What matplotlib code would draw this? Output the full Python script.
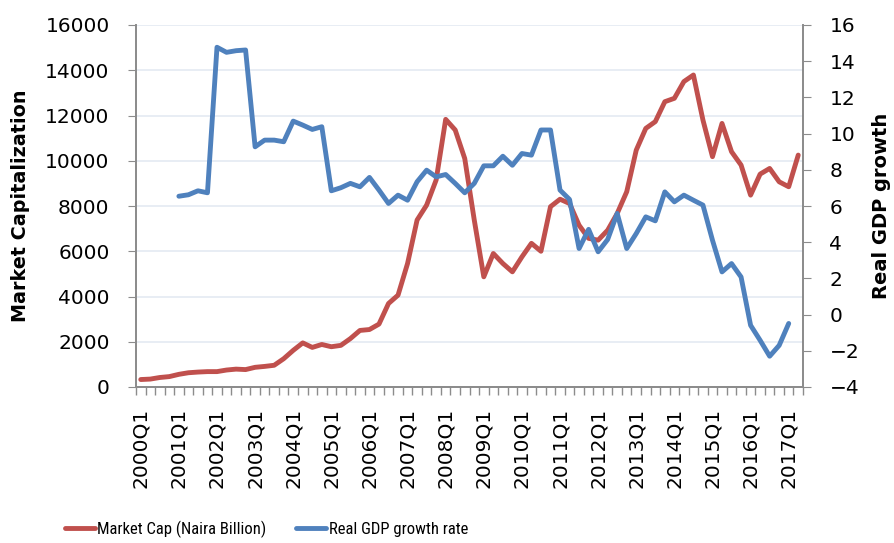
import numpy as np
import matplotlib
matplotlib.use("Agg")
import matplotlib.pyplot as plt
from matplotlib import font_manager
from matplotlib.ticker import FixedLocator

years = list(range(2000, 2018))
quarters = [f"{y}Q{q}" for y in years for q in range(1, 5)][:70]   # 2000Q1 .. 2017Q2

market_cap = [330, 350, 420, 460, 560, 630, 660, 680, 680, 750, 790, 770,
              870, 910, 960, 1250, 1620, 1950, 1750, 1880, 1780, 1840, 2140, 2500,
              2540, 2780, 3690, 4060, 5460, 7380, 8040, 9150, 11830, 11360, 10100, 7380,
              4870, 5900, 5460, 5090, 5750, 6350, 6000, 7970, 8300, 8110, 7150, 6570,
              6490, 6930, 7670, 8630, 10470, 11430, 11730, 12610, 12760, 13500, 13790, 11800,
              10180, 11650, 10400, 9810, 8480, 9410, 9660, 9070, 8850, 10250]

gdp_growth = [None, None, None, None,
              6.54, 6.62, 6.84, 6.73, 14.77, 14.49, 14.58, 14.62,
              9.27, 9.64, 9.64, 9.55, 10.69, 10.47, 10.23, 10.38,
              6.84, 7.01, 7.25, 7.06, 7.58, 6.88, 6.14, 6.60,
              6.32, 7.34, 7.98, 7.61, 7.74, 7.25, 6.73, 7.25,
              8.22, 8.22, 8.75, 8.25, 8.90, 8.81, 10.20, 10.20,
              6.88, 6.36, 3.65, 4.71, 3.47, 4.15, 5.59, 3.65,
              4.48, 5.40, 5.18, 6.78, 6.23, 6.60, 6.32, 6.05,
              4.11, 2.36, 2.82, 2.08, -0.59, -1.42, -2.30, -1.70, -0.49,
              None]

RED = "#C0504D"
BLUE = "#4F81BD"
GREY = "#8C8C8C"

plt.rcParams['font.family'] = ['DejaVu Sans']

# legend text in the reference is narrow; use a condensed face if one is around
installed = {(f.name, f.stretch) for f in font_manager.fontManager.ttflist}
names = {n for n, _ in installed}
if 'Liberation Sans Narrow' in names:
    legend_font = {'family': 'Liberation Sans Narrow', 'size': 12.3}
elif 'Roboto Condensed' in names:
    legend_font = {'family': 'Roboto Condensed', 'size': 12}
elif ('DejaVu Sans', 'condensed') in installed or ('DejaVu Sans', 'semi-condensed') in installed:
    legend_font = {'family': 'DejaVu Sans', 'stretch': 'condensed', 'size': 10.5}
else:
    legend_font = {'family': 'Lato', 'size': 10.8}

fig = plt.figure(figsize=(8.94, 5.43), dpi=100)
ax = fig.add_axes([136 / 894, 156 / 543, 667 / 894, 362 / 543])
ax2 = ax.twinx()

x = np.arange(len(quarters))
gdp = np.array([np.nan if v is None else v for v in gdp_growth], dtype=float)

l1, = ax.plot(x, market_cap, color=RED, lw=3.5, solid_capstyle='round', solid_joinstyle='round',
              label="Market Cap (Naira Billion)")
l2, = ax2.plot(x, gdp, color=BLUE, lw=3.5, solid_capstyle='round', solid_joinstyle='round',
               label="Real GDP growth rate")

ax.set_xlim(-0.5, len(quarters) - 0.5)
ax.set_ylim(0, 16000)
ax.set_yticks(range(0, 16001, 2000))
ax2.set_ylim(-4, 16)
ax2.set_yticks(range(-4, 17, 2))

ax.grid(axis='y', color='#E6ECF3', lw=1.3)
ax.set_axisbelow(True)

ax.set_xticks(x[::4])
ax.set_xticklabels(quarters[::4], rotation=90, fontsize=14.5)
ax.xaxis.set_minor_locator(FixedLocator(np.arange(-0.5, len(quarters), 1)))
ax.tick_params(axis='x', which='major', length=0, pad=15)
ax.tick_params(axis='x', which='minor', length=6, color=GREY, width=1)

ax.tick_params(axis='y', length=6, color=GREY, labelsize=14.5, pad=13)
ax2.tick_params(axis='y', length=6, color=GREY, labelsize=14.5, pad=13)

for a in (ax, ax2):
    a.spines['top'].set_visible(False)
    for s in ('left', 'right', 'bottom'):
        a.spines[s].set_color(GREY)
        a.spines[s].set_linewidth(1.3)

ax.set_ylabel("Market Capitalization", fontsize=13.8, fontweight='bold')
ax.yaxis.set_label_coords(-0.159, 0.5)
ax2.set_ylabel("Real GDP growth", fontsize=14, fontweight='bold')
ax2.yaxis.set_label_coords(1.1034, 0.5)

fig.legend(handles=[l1, l2], loc='center', bbox_to_anchor=(0.298, 0.026), ncol=2,
           frameon=False, handlelength=1.8, columnspacing=1.8, handletextpad=0.15,
           prop=legend_font)

fig.savefig("out.png", dpi=100)
